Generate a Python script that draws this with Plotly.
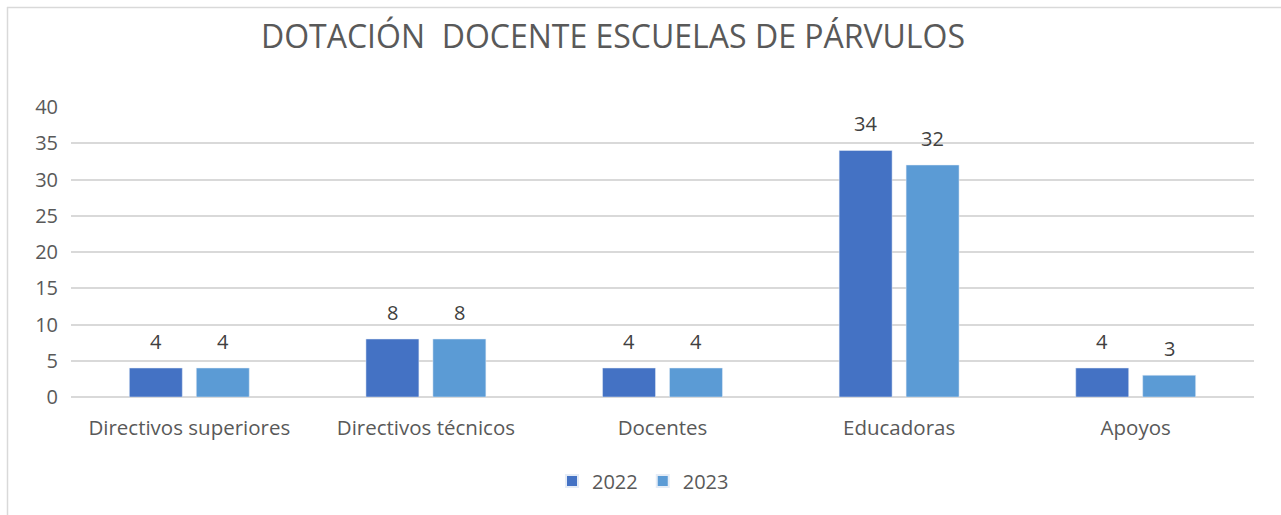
import plotly.graph_objects as go

categories = ["Directivos superiores", "Directivos técnicos", "Docentes", "Educadoras", "Apoyos"]
values_2022 = [4, 8, 4, 34, 4]
values_2023 = [4, 8, 4, 32, 3]
y_ticks = [0, 5, 10, 15, 20, 25, 30, 35, 40]

W, H = 1281, 515
L, R, T, B = 71, 27, 107, 118
pw = W - L - R
ph = H - T - B

font_family = "Open Sans, Liberation Sans, sans-serif"
txt = "#595959"

fig = go.Figure()
fig.add_trace(go.Bar(x=categories, y=values_2022, name="2022", marker_color="#4472C4"))
fig.add_trace(go.Bar(x=categories, y=values_2023, name="2023", marker_color="#5B9BD5"))

annotations = []
for vals, shift in ((values_2022, -33.5), (values_2023, 33.5)):
    for c, v in zip(categories, vals):
        annotations.append(dict(x=c, y=v, xref="x", yref="y", text=str(v), showarrow=False,
                                xshift=shift, yshift=27, yanchor="middle",
                                font=dict(size=20, color="#404040", family=font_family)))

def px_x(x):
    return (x - L) / pw

def px_y(y):
    return (H - B - y) / ph

fig.update_layout(
    width=W, height=H,
    margin=dict(l=L, r=R, t=T, b=B),
    paper_bgcolor="white", plot_bgcolor="white",
    font=dict(family=font_family, color=txt, size=20),
    title=dict(text="DOTACIÓN  DOCENTE ESCUELAS DE PÁRVULOS", x=613 / W, xanchor="center",
               y=1 - 37 / H, yanchor="middle",
               font=dict(size=32, color=txt, family=font_family)),
    barmode="group", bargap=0.434, bargroupgap=0.209,
    showlegend=True,
    legend=dict(orientation="h", x=px_x(643), xanchor="center", y=px_y(481), yanchor="middle",
                font=dict(size=20, color=txt), itemsizing="constant", traceorder="normal"),
    xaxis=dict(showgrid=False, showline=False, ticks="", tickfont=dict(size=20.5, color=txt),
               ticklabelstandoff=16, automargin=False),
    yaxis=dict(range=[0, 40], tickvals=y_ticks, showgrid=True, gridcolor="#D9D9D9", gridwidth=1.5,
               zeroline=True, zerolinecolor="#D9D9D9", zerolinewidth=1.5, showline=False,
               tickfont=dict(size=20, color=txt), ticklabelstandoff=12, automargin=False),
    annotations=annotations,
    shapes=[
        dict(type="line", xref="paper", yref="paper", x0=px_x(7), x1=px_x(W + 5), y0=px_y(7.5), y1=px_y(7.5),
             line=dict(color="#D9D9D9", width=1.5)),
        dict(type="line", xref="paper", yref="paper", x0=px_x(7.5), x1=px_x(7.5), y0=px_y(7), y1=px_y(H + 5),
             line=dict(color="#D9D9D9", width=1.5)),
    ],
)

fig.write_html("out.html", config={"displayModeBar": False},
               post_script="document.body.style.margin='0';")
